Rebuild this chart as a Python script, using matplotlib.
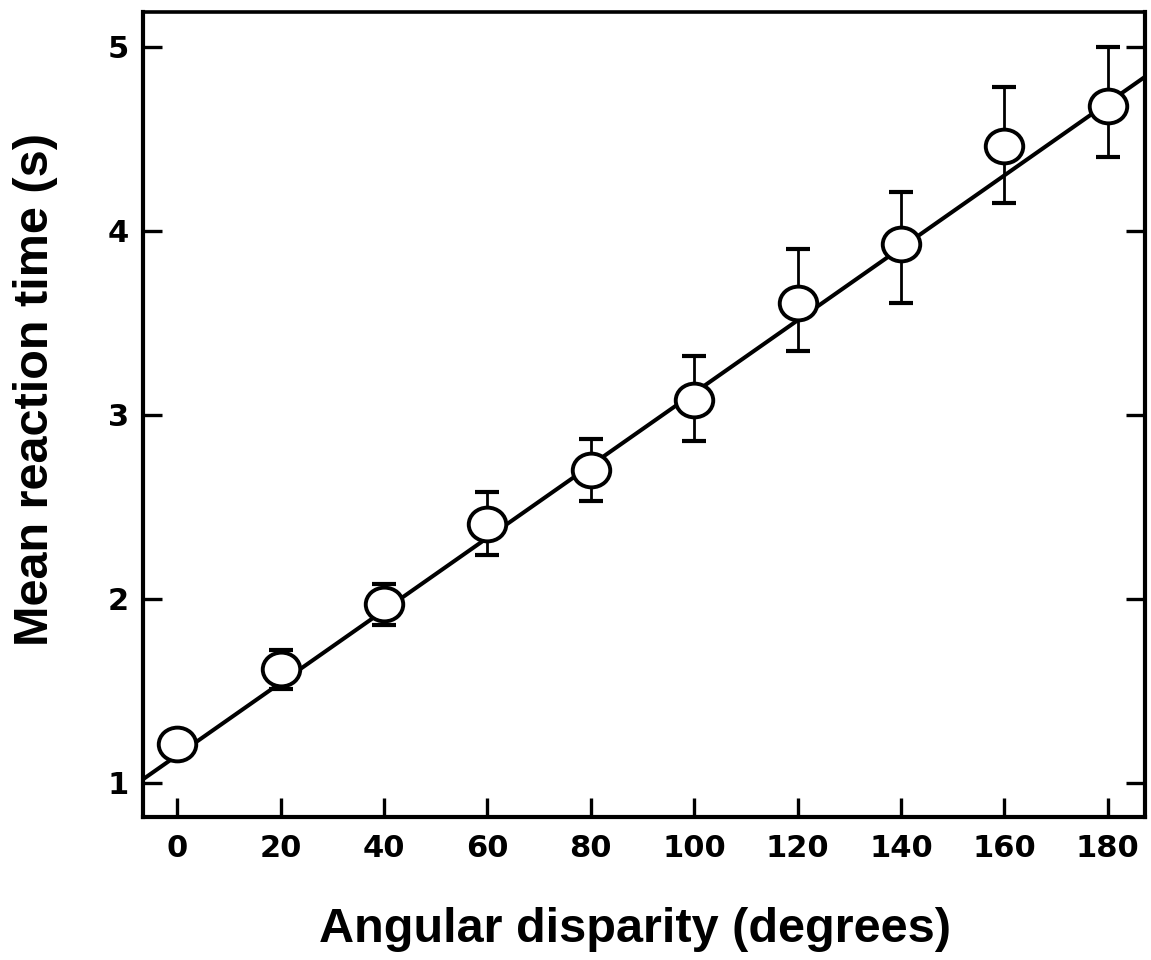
import numpy as np
import matplotlib
matplotlib.use("Agg")
import matplotlib.pyplot as plt
from matplotlib.path import Path
from matplotlib.transforms import Affine2D

# ---- data ----
angles = [0, 20, 40, 60, 80, 100, 120, 140, 160, 180]
mean_rt = [1.21, 1.62, 1.97, 2.41, 2.70, 3.08, 3.61, 3.93, 4.46, 4.68]
err_upper = [1.21, 1.72, 2.08, 2.58, 2.87, 3.32, 3.90, 4.21, 4.78, 5.00]
err_lower = [1.21, 1.51, 1.86, 2.24, 2.53, 2.86, 3.35, 3.61, 4.15, 4.40]
fit_intercept = 1.15
fit_slope = 0.0197
x_ticks = [0, 20, 40, 60, 80, 100, 120, 140, 160, 180]
y_ticks = [1, 2, 3, 4, 5]
x_label = "Angular disparity (degrees)"
y_label = "Mean reaction time (s)"

fig = plt.figure(figsize=(11.51, 9.60), dpi=100)
ax = fig.add_axes([143/1151, 1 - 817/960, (1145-143)/1151, (817-12)/960])

xlim = (-6.6, 187.2)
ax.set_xlim(*xlim)
ax.set_ylim(0.815, 5.19)

# regression line
xl = np.array(xlim)
ax.plot(xl, fit_intercept + fit_slope * xl, color="black", lw=2.9,
        zorder=2, solid_capstyle="butt")

# error bars
m = np.array(mean_rt)
yerr = np.vstack([m - np.array(err_lower), np.array(err_upper) - m])
ax.errorbar(angles, mean_rt, yerr=yerr, fmt="none", ecolor="black",
            elinewidth=2.0, capsize=8.3, capthick=3.0, zorder=2)

# slightly flattened circle markers
ellipse = Path.unit_circle().transformed(Affine2D().scale(1.0, 0.9))
ax.plot(angles, mean_rt, linestyle="none", marker=ellipse, markersize=27,
        markerfacecolor="white", markeredgecolor="black",
        markeredgewidth=2.8, zorder=3)

# spines & ticks
for s in ax.spines.values():
    s.set_linewidth(3.0)
ax.spines["top"].set_linewidth(2.6)

ax.set_xticks(x_ticks)
ax.set_yticks(y_ticks)
ax.set_xticklabels([str(t) for t in x_ticks])
ax.set_yticklabels([str(t) for t in y_ticks])
ax.tick_params(axis="both", direction="in", length=14, width=2.4,
               labelsize=22)
ax.tick_params(axis="y", right=True, labelright=False, pad=10)
ax.tick_params(axis="x", top=False, pad=12)
for lab in ax.get_xticklabels() + ax.get_yticklabels():
    lab.set_fontfamily("DejaVu Sans")
    lab.set_fontweight("bold")

ax.set_xlabel(x_label, fontsize=35, fontweight="bold",
              fontfamily="Liberation Sans")
ax.set_ylabel(y_label, fontsize=35, fontweight="bold",
              fontfamily="Liberation Sans")
ax.xaxis.label.set_va("center")
ax.yaxis.label.set_va("center")
ax.xaxis.set_label_coords((635 - 143) / 1002, (817 - 930) / 805)
ax.yaxis.set_label_coords((36 - 143) / 1002, (817 - 390) / 805)

fig.savefig("out.png", dpi=100, facecolor="white")
